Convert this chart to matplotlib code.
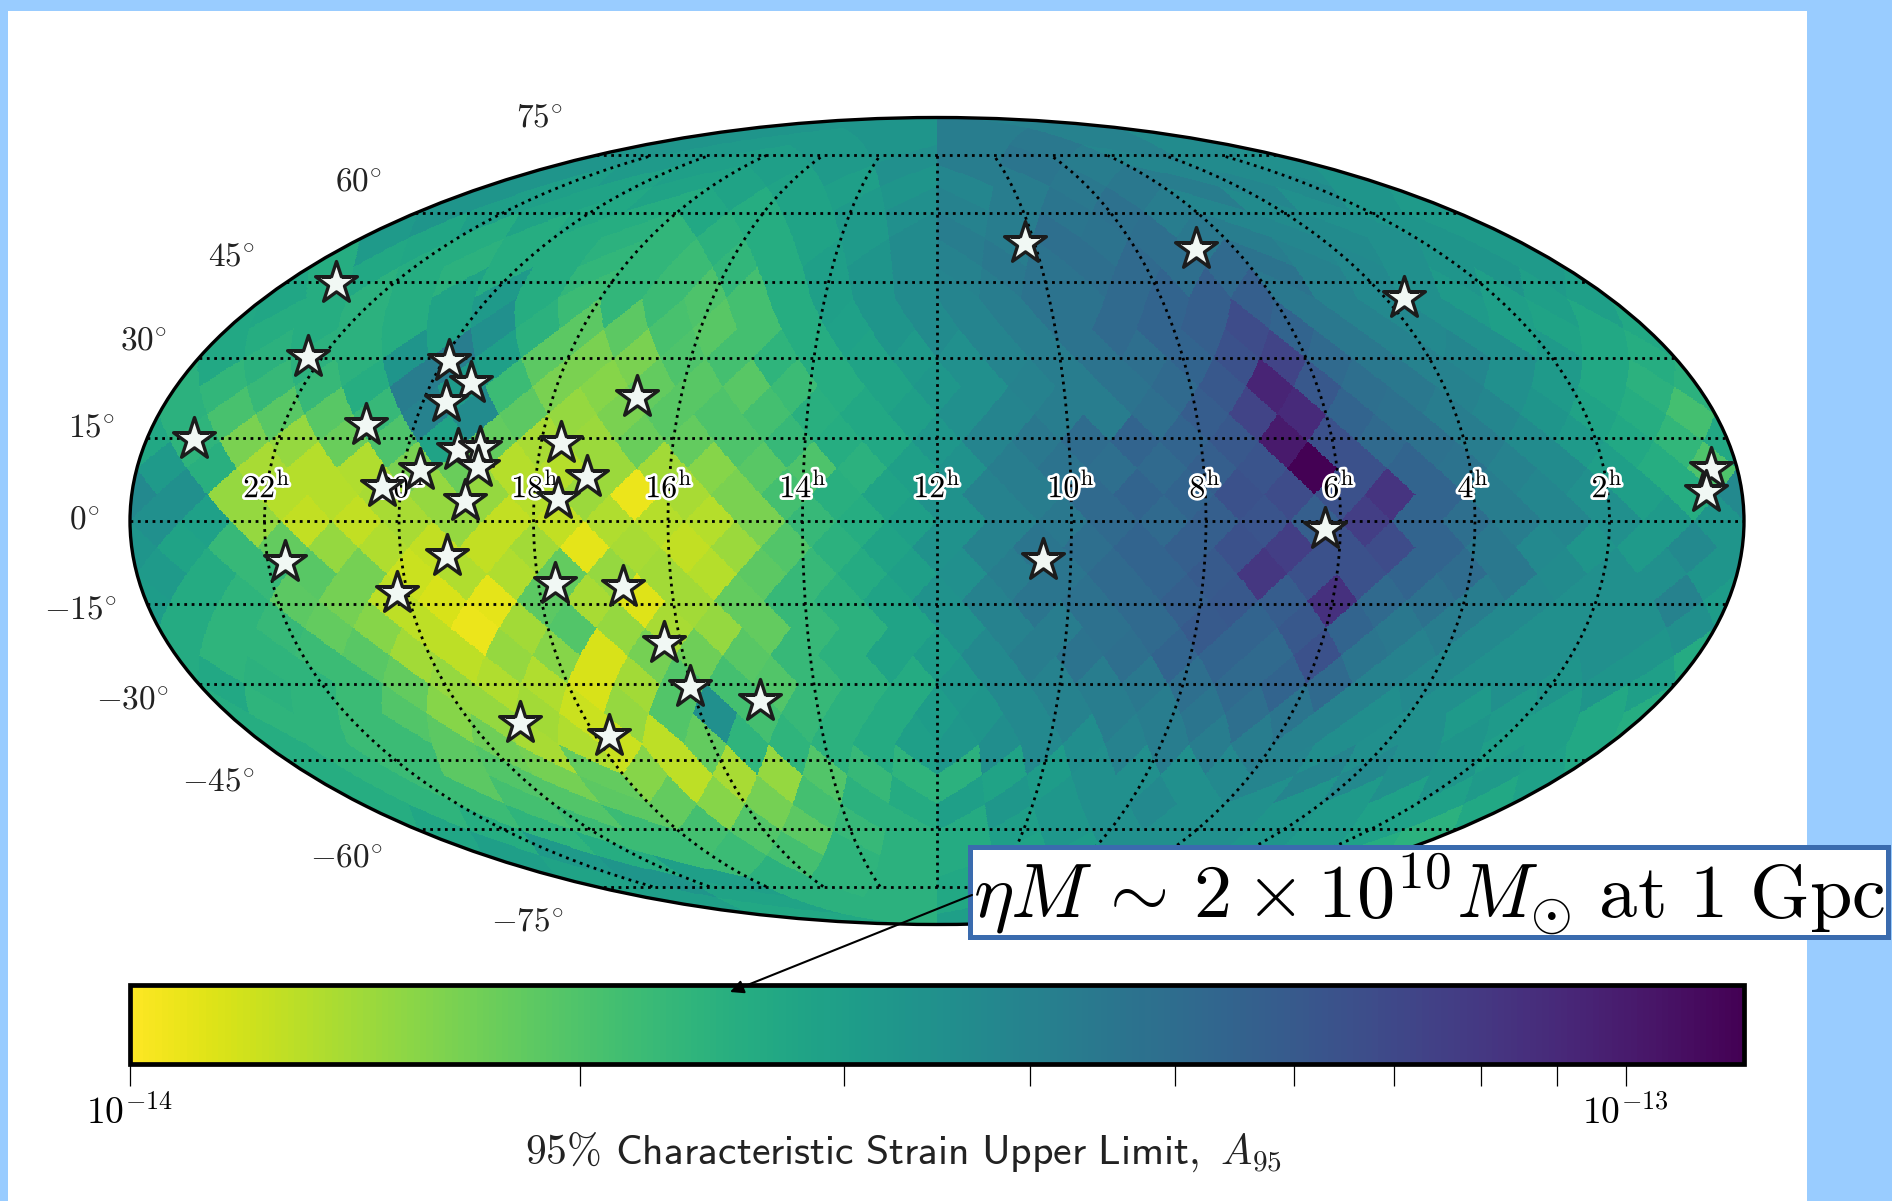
import numpy as np
import matplotlib
matplotlib.use('Agg')
import matplotlib.pyplot as plt
import matplotlib.patheffects as pe
from matplotlib.colors import LogNorm
from matplotlib.patches import Rectangle, FancyArrowPatch

plt.rcParams['mathtext.fontset'] = 'cm'
plt.rcParams['font.family'] = 'cmr10'
plt.rcParams['axes.formatter.use_mathtext'] = True

W, H = 1892, 1201
NSIDE = 8
A_MIN, A_MAX = 1e-14, 1.2e-13

# map values, one list per HEALPix ring (nside 8), north to south, left to right on the plot.
# colour position: 0 = yellow end of the bar, 100 = purple end
ring_01 = [48, 48, 58, 56]
ring_02 = [48, 46, 46, 48, 58, 60, 56, 52]
ring_03 = [48, 46, 44, 44, 46, 50, 58, 61, 58, 54, 52, 50]
ring_04 = [48, 44, 42, 42, 42, 42, 44, 48, 54, 58, 60, 60, 58, 54, 52, 48]
ring_05 = [48, 44, 42, 40, 38, 40, 38, 42, 46, 50, 56, 58, 61, 63, 58, 54, 52, 50, 48, 46]
ring_06 = [46, 41, 38, 38, 38, 36, 34, 36, 38, 42, 46, 52, 58, 58, 64, 62, 64, 60, 58, 54, 52, 50, 48, 46]
ring_07 = [38, 40, 38, 36, 38, 38, 34, 34, 32, 34, 38, 44, 48, 52, 56, 60, 62, 64, 66, 64, 66, 62, 56, 53, 50, 48, 48, 46]
ring_08 = [41, 38, 36, 38, 42, 46, 38, 32, 34, 32, 28, 30, 38, 44, 48, 52, 55, 58, 62, 62, 66, 68, 70, 70, 60, 56, 53, 50, 46, 44, 44, 44]
ring_09 = [40, 38, 38, 36, 38, 42, 50, 36, 25, 25, 29, 26, 30, 38, 43, 48, 52, 55, 58, 62, 66, 68, 70, 77, 68, 60, 56, 53, 50, 44, 42, 40]
ring_10 = [40, 36, 36, 36, 48, 58, 44, 25, 20, 20, 28, 30, 35, 38, 42, 46, 50, 55, 58, 62, 64, 68, 75, 80, 66, 60, 56, 54, 50, 46, 40, 38]
ring_11 = [36, 34, 33, 33, 38, 58, 46, 32, 20, 18, 24, 26, 26, 32, 38, 42, 47, 50, 56, 58, 62, 66, 73, 90, 73, 64, 60, 56, 50, 46, 40, 36]
ring_12 = [36, 29, 26, 26, 33, 56, 52, 25, 16, 20, 26, 28, 30, 37, 40, 44, 50, 55, 58, 58, 64, 71, 80, 88, 68, 63, 58, 54, 48, 42, 38, 30]
ring_13 = [40, 35, 20, 16, 23, 28, 42, 24, 13, 15, 23, 24, 28, 33, 38, 40, 47, 55, 60, 65, 68, 68, 73, 93, 75, 66, 63, 58, 52, 46, 40, 34]
ring_14 = [46, 37, 13, 11, 12, 20, 23, 11, 11, 15, 14, 18, 26, 28, 36, 44, 49, 58, 62, 64, 66, 70, 74, 100, 75, 68, 62, 56, 52, 44, 38, 28]
ring_15 = [53, 50, 16, 11, 11, 13, 16, 16, 11, 15, 3, 13, 20, 30, 37, 42, 49, 56, 58, 66, 68, 68, 75, 77, 75, 85, 68, 58, 54, 50, 44, 38]
ring_16 = [50, 43, 16, 9, 9, 13, 16, 9, 9, 12, 11, 11, 20, 33, 38, 44, 49, 56, 60, 66, 66, 70, 74, 70, 82, 68, 64, 58, 54, 50, 46, 48]
ring_17 = [48, 42, 33, 24, 16, 12, 9, 9, 14, 4, 13, 9, 15, 27, 36, 42, 49, 56, 61, 64, 68, 70, 75, 82, 75, 77, 68, 60, 53, 48, 46, 53]
ring_18 = [46, 39, 33, 26, 21, 8, 12, 12, 24, 16, 14, 11, 25, 33, 39, 44, 50, 58, 61, 66, 68, 72, 84, 75, 75, 68, 65, 60, 52, 50, 50, 48]
ring_19 = [45, 39, 35, 25, 21, 10, 6, 4, 25, 13, 5, 14, 24, 33, 36, 42, 49, 56, 61, 63, 66, 70, 73, 71, 86, 66, 63, 58, 53, 50, 50, 56]
ring_20 = [39, 35, 33, 24, 18, 10, 3, 14, 27, 16, 13, 16, 24, 33, 36, 42, 49, 56, 58, 63, 66, 72, 68, 73, 68, 60, 58, 53, 50, 50, 50, 50]
ring_21 = [39, 35, 35, 32, 26, 14, 10, 16, 18, 6, 21, 22, 26, 33, 36, 42, 45, 53, 58, 62, 64, 68, 68, 66, 75, 61, 56, 53, 50, 50, 50, 48]
ring_22 = [40, 36, 35, 32, 24, 16, 12, 12, 6, 14, 27, 30, 27, 33, 36, 39, 47, 53, 56, 58, 60, 64, 66, 68, 66, 56, 53, 50, 50, 48, 48, 44]
ring_23 = [38, 35, 35, 32, 27, 18, 16, 14, 8, 16, 27, 50, 30, 33, 36, 39, 45, 48, 53, 56, 58, 58, 61, 64, 61, 56, 51, 50, 46, 46, 44, 40]
ring_24 = [38, 35, 32, 32, 25, 22, 13, 12, 8, 10, 24, 35, 35, 36, 39, 44, 47, 51, 53, 51, 56, 58, 58, 58, 56, 51, 50, 50, 48, 44, 44, 40]
ring_25 = [38, 35, 32, 25, 27, 21, 24, 18, 10, 13, 16, 27, 33, 35, 36, 42, 45, 50, 50, 50, 53, 55, 55, 53, 50, 48, 46, 43]
ring_26 = [38, 35, 32, 30, 27, 25, 24, 18, 21, 30, 36, 39, 44, 47, 47, 50, 53, 50, 50, 48, 46, 43, 43, 40]
ring_27 = [41, 38, 35, 32, 32, 30, 27, 25, 33, 36, 39, 44, 47, 50, 50, 50, 48, 46, 43, 36]
ring_28 = [44, 46, 38, 32, 32, 30, 35, 36, 39, 42, 45, 50, 50, 48, 46, 38]
ring_29 = [42, 48, 44, 36, 35, 36, 40, 43, 48, 48, 46, 41]
ring_30 = [44, 42, 36, 36, 40, 46, 48, 44]
ring_31 = [40, 36, 44, 46]
rings = [ring_01, ring_02, ring_03, ring_04, ring_05, ring_06, ring_07, ring_08,
         ring_09, ring_10, ring_11, ring_12, ring_13, ring_14, ring_15, ring_16,
         ring_17, ring_18, ring_19, ring_20, ring_21, ring_22, ring_23, ring_24,
         ring_25, ring_26, ring_27, ring_28, ring_29, ring_30, ring_31]

# pulsars
psr_ra = [23.07, 22.24, 19.91, 19.38, 19.64, 20.74, 23.28, 19.23, 18.91, 18.89, 19.75, 20.28,
          19.03, 17.70, 17.23, 17.65, 16.68, 21.75, 19.31, 20.16, 17.75, 16.73, 16.25, 16.03,
          14.94, 19.17, 17.76, 10.20, 6.78, 3.68, 10.42, 6.23, 0.40, 0.53]
psr_dec = [44.9, 30.2, 29.4, 25.3, 21.8, 17.5, 14.8, 12.9, 13.3, 9.8, 9.3, 6.1,
           3.7, 14.2, 8.0, 3.9, 22.6, -7.4, -6.4, -13.1, -11.4, -12.0, -22.2, -30.6,
           -33.2, -37.6, -40.2, 53.4, 52.1, 41.7, -7.0, -1.5, 9.5, 5.3]

ra_hours = [22, 20, 18, 16, 14, 12, 10, 8, 6, 4, 2]
dec_labels = [75, 60, 45, 30, 15, 0, -15, -30, -45, -60, -75]
dec_label_x = [540, 359, 232, 144, 92, 84, 80, 132, 218, 346, 527]
dec_label_y = [119, 183, 258, 342, 429, 521, 611, 701, 783, 859, 923]
minor_ticks = [2e-14, 3e-14, 4e-14, 5e-14, 6e-14, 7e-14, 8e-14, 9e-14]


def fx(x):
    return x / W


def fy(y):
    return 1 - y / H


def pixel_index(lon, lat):
    # ring scheme lookup, phi = RA and RA grows to the left
    z = np.sin(lat)
    za = np.abs(z)
    tt = ((np.pi - lon) / (np.pi / 2)) % 4

    t1 = NSIDE * (0.5 + tt)
    t2 = NSIDE * z * 0.75
    jp = np.floor(t1 - t2).astype(int)
    jm = np.floor(t1 + t2).astype(int)
    ir = NSIDE + 1 + jp - jm
    ip = ((jp + jm - NSIDE + (1 - (ir & 1)) + 1) >> 1) % (4 * NSIDE)
    eq = 2 * NSIDE * (NSIDE - 1) + (ir - 1) * 4 * NSIDE + ip

    tp = tt - np.floor(tt)
    tmp = NSIDE * np.sqrt(3 * (1 - za))
    jp = np.floor(tp * tmp).astype(int)
    jm = np.floor((1 - tp) * tmp).astype(int)
    ir = np.maximum(jp + jm + 1, 1)
    ip = np.floor(tt * ir).astype(int) % (4 * ir)
    north = 2 * ir * (ir - 1) + ip
    south = 12 * NSIDE ** 2 - 2 * ir * (ir + 1) + ip
    return np.where(za <= 2 / 3, eq, np.where(z > 0, north, south))


def ring_to_index_order(i, values):
    # lists run left to right, pixel numbers run with phi from RA 0
    row = np.array(values[::-1], dtype=float)
    if NSIDE < i < 3 * NSIDE and (i + NSIDE) % 2 == 1:
        row = np.roll(row, 1)   # these rings have their first pixel centred on phi = 0
    return row


levels = np.concatenate([ring_to_index_order(i + 1, r) for i, r in enumerate(rings)])
a95 = A_MIN * (A_MAX / A_MIN) ** (levels / 100)

lon_e = np.linspace(-np.pi, np.pi, 1401)
lat_e = np.linspace(-np.pi / 2, np.pi / 2, 701)
lon_c, lat_c = np.meshgrid(0.5 * (lon_e[1:] + lon_e[:-1]), 0.5 * (lat_e[1:] + lat_e[:-1]))
grid_vals = a95[pixel_index(lon_c, lat_c)]

fig = plt.figure(figsize=(W / 100, H / 100), dpi=100, facecolor='#99ccff')
fig.add_artist(Rectangle((fx(8), 0), fx(1807 - 8), fy(11), transform=fig.transFigure,
                         facecolor='white', edgecolor='none', zorder=-5))

ax = fig.add_axes([fx(130), fy(925), fx(1744 - 130), fy(117) - fy(925)], projection='mollweide')
norm = LogNorm(A_MIN, A_MAX)
mesh = ax.pcolormesh(lon_e, lat_e, grid_vals, cmap='viridis_r', norm=norm, rasterized=True)
ax.grid(True, color='k', linestyle=':', linewidth=2.0)
ax.set_axisbelow(False)
ax.set_xticklabels([])
ax.set_yticklabels([])
ax.spines['geo'].set_linewidth(2.4)

for hour in ra_hours:
    ax.text(np.radians(180 - hour * 15), np.radians(6.1), r'$%d^{\mathrm{h}}$' % hour, color='k',
            fontsize=23, ha='center', va='center', zorder=3,
            path_effects=[pe.withStroke(linewidth=4, foreground='white')])

star_lon = np.radians(180 - np.array(psr_ra) * 15)
star_lat = np.radians(psr_dec)
ax.scatter(star_lon, star_lat, marker='*', s=1000, facecolor='#f1f8f4', edgecolor='#1c1c1c',
           linewidth=2.4, zorder=4)

for dec, x, y in zip(dec_labels, dec_label_x, dec_label_y):
    fig.text(fx(x), fy(y), r'$%d^{\circ}$' % dec, fontsize=24, color='#222222', ha='center', va='center')

cax = fig.add_axes([fx(130), fy(1064), fx(1744 - 130), fy(985) - fy(1064)])
cb = fig.colorbar(mesh, cax=cax, orientation='horizontal')
cb.outline.set_linewidth(3.4)
cb.set_ticks([1e-14, 1e-13])
cb.set_ticklabels([r'$10^{-14}$', r'$10^{-13}$'])
cax.xaxis.set_ticks(minor_ticks, minor=True)
cax.xaxis.set_tick_params(which='both', length=16, width=0.9, labelsize=27, pad=6, labelbottom=True)
cax.set_xticklabels([], minor=True)

fig.text(fx(903), fy(1152), r'$95\%$ $\mathsf{Characteristic\ Strain\ Upper\ Limit,}$ $A_{95}$',
         fontsize=30, color='#222222', ha='center', va='center')

# callout
fig.add_artist(Rectangle((fx(970), fy(937)), fx(1888 - 970), fy(847) - fy(937), transform=fig.transFigure,
                         facecolor='white', edgecolor='#3a6bae', linewidth=3.6, zorder=5))
fig.text(fx(973), fy(895), r'$\eta M\,\sim\,2\times10^{10}M_{\odot}\ \mathrm{at\ 1\ Gpc}$',
         fontsize=55, color='k', ha='left', va='center', zorder=6)
fig.add_artist(FancyArrowPatch((fx(972), fy(895)), (fx(730), fy(992)), transform=fig.transFigure,
                               arrowstyle='-|>', mutation_scale=20, color='k', linewidth=1.5,
                               shrinkA=0, shrinkB=0, zorder=6))

fig.savefig('out.png', dpi=100, facecolor=fig.get_facecolor())
